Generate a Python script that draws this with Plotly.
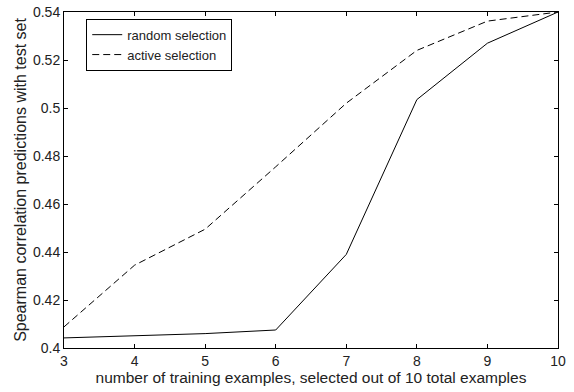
import plotly.graph_objects as go

x_vals = [3, 4, 5, 6, 7, 8, 9, 10]
random_sel = [0.4042, 0.4050, 0.4060, 0.4075, 0.4390, 0.5035, 0.5270, 0.5400]
active_sel = [0.4088, 0.4345, 0.4495, 0.4755, 0.5020, 0.5240, 0.5362, 0.5400]
y_ticks = [0.40, 0.42, 0.44, 0.46, 0.48, 0.50, 0.52, 0.54]
y_tick_text = ["0.4", "0.42", "0.44", "0.46", "0.48", "0.5", "0.52", "0.54"]
x_ticks = [3, 4, 5, 6, 7, 8, 9, 10]

fig = go.Figure()
fig.add_trace(go.Scatter(x=x_vals, y=random_sel, mode="lines", name="random selection",
                         line=dict(color="black", width=1)))
fig.add_trace(go.Scatter(x=x_vals, y=active_sel, mode="lines", name="active selection",
                         line=dict(color="black", width=1, dash="7px,4px")))

axis_common = dict(showgrid=False, zeroline=False, showline=True, linecolor="black",
                   linewidth=1, mirror="ticks", ticks="inside", ticklen=4,
                   tickcolor="black", automargin=False,
                   tickfont=dict(family="Liberation Sans, Arial", size=14, color="#222"))

fig.update_layout(
    width=574, height=392,
    margin=dict(l=64, r=16, t=12, b=44),
    paper_bgcolor="white", plot_bgcolor="white",
    font=dict(family="Liberation Sans, Arial", size=14, color="#222"),
    showlegend=True,
    legend=dict(x=0.045, y=0.98, xanchor="left", yanchor="top",
                bordercolor="black", borderwidth=1, bgcolor="white",
                font=dict(size=13), tracegroupgap=0, itemwidth=30),
    xaxis=dict(range=[3, 10], tickvals=x_ticks,
               title=dict(text="number of training examples, selected out of 10 total examples",
                          font=dict(size=15.5), standoff=2),
               **axis_common),
    yaxis=dict(range=[0.4, 0.54], tickvals=y_ticks, ticktext=y_tick_text,
               title=dict(text="Spearman correlation predictions with test set",
                          font=dict(size=16), standoff=2),
               **axis_common),
)

fig.write_html("out.html", config={"displayModeBar": False},
               post_script="document.body.style.margin='0';document.body.style.overflow='hidden';")
